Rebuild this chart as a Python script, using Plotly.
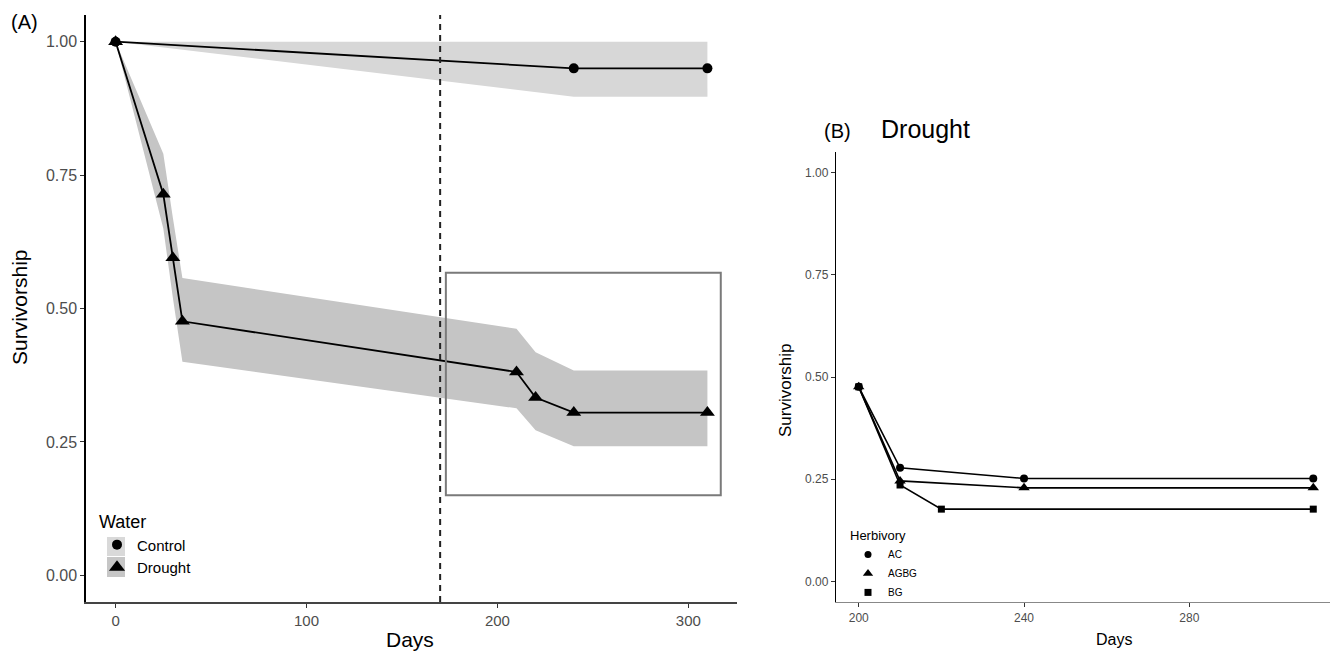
import plotly.graph_objects as go

# The page body has an 8px margin, so the figure is drawn 8px smaller and
# all screen positions below are converted with that offset.
SCREEN_W, SCREEN_H, OFF = 1338, 652, 8
W, H = SCREEN_W - OFF, SCREEN_H - OFF

# ---------------- Panel A data ----------------
control_days = [0, 240, 310]
control_surv = [1.0, 0.95, 0.95]
control_lo = [1.0, 0.897, 0.897]
control_hi = [1.0, 1.0, 1.0]

drought_days = [0, 25, 30, 35, 210, 220, 240, 310]
drought_surv = [1.0, 0.714, 0.595, 0.476, 0.381, 0.333, 0.305, 0.305]
drought_lo = [1.0, 0.65, 0.52, 0.40, 0.313, 0.272, 0.242, 0.242]
drought_hi = [1.0, 0.79, 0.67, 0.557, 0.462, 0.418, 0.384, 0.384]

water_groups = ["Control", "Drought"]
a_xticks = [0, 100, 200, 300]
y_ticks = [0.0, 0.25, 0.5, 0.75, 1.0]
y_ticklabels = ["0.00", "0.25", "0.50", "0.75", "1.00"]
drought_start_day = 170
zoom_box = dict(x0=173, x1=317, y0=0.15, y1=0.567)

# ---------------- Panel B data ----------------
herb_groups = ["AC", "AGBG", "BG"]
ac_days = [200, 210, 240, 310]
ac_surv = [0.476, 0.278, 0.252, 0.252]
agbg_days = [200, 210, 240, 310]
agbg_surv = [0.476, 0.246, 0.229, 0.229]
bg_days = [200, 210, 220, 310]
bg_surv = [0.476, 0.236, 0.177, 0.177]
b_xticks = [200, 240, 280]

FONT = "Liberation Sans, Arial, sans-serif"


def px(x):
    return (x - OFF) / W


def py(y):
    return 1 - (y - OFF) / H


fig = go.Figure()

# ---- Panel A ribbons ----
fig.add_trace(go.Scatter(
    x=control_days + control_days[::-1], y=control_hi + control_lo[::-1],
    fill="toself", fillcolor="rgb(215,215,215)", line=dict(width=0),
    mode="lines", hoverinfo="skip", showlegend=False, xaxis="x", yaxis="y"))
fig.add_trace(go.Scatter(
    x=drought_days + drought_days[::-1], y=drought_hi + drought_lo[::-1],
    fill="toself", fillcolor="rgb(197,197,197)", line=dict(width=0),
    mode="lines", hoverinfo="skip", showlegend=False, xaxis="x", yaxis="y"))

# ---- Panel A lines ----
fig.add_trace(go.Scatter(
    x=control_days, y=control_surv, mode="lines+markers",
    line=dict(color="black", width=1.8),
    marker=dict(symbol="circle", size=10, color="black"),
    showlegend=False, xaxis="x", yaxis="y"))
fig.add_trace(go.Scatter(
    x=drought_days, y=drought_surv, mode="lines+markers",
    line=dict(color="black", width=1.8),
    marker=dict(symbol="triangle-up", size=13, color="black"),
    showlegend=False, xaxis="x", yaxis="y"))

# ---- Panel A legend entries ----
for name, sym, sz in zip(water_groups, ["circle", "triangle-up"], [10, 14]):
    fig.add_trace(go.Scatter(
        x=[None], y=[None], mode="markers", name=name,
        marker=dict(symbol=sym, size=sz, color="black"),
        legend="legend", xaxis="x", yaxis="y"))

# ---- Panel B lines ----
for days, surv, sym, sz in [(ac_days, ac_surv, "circle", 8),
                             (agbg_days, agbg_surv, "triangle-up", 10),
                             (bg_days, bg_surv, "square", 7)]:
    fig.add_trace(go.Scatter(
        x=days, y=surv, mode="lines+markers",
        line=dict(color="black", width=1.6),
        marker=dict(symbol=sym, size=sz, color="black"),
        showlegend=False, xaxis="x2", yaxis="y2"))

for name, sym, sz in zip(herb_groups, ["circle", "triangle-up", "square"], [7, 9, 7]):
    fig.add_trace(go.Scatter(
        x=[None], y=[None], mode="markers", name=name,
        marker=dict(symbol=sym, size=sz, color="black"),
        legend="legend2", xaxis="x2", yaxis="y2"))

axis_common = dict(showgrid=False, zeroline=False, showline=True,
                   ticks="outside", ticklen=4, tickwidth=1, tickcolor="#333",
                   automargin=False)

fig.update_layout(
    width=W, height=H,
    margin=dict(l=0, r=0, t=0, b=0),
    paper_bgcolor="white", plot_bgcolor="white",
    font=dict(family=FONT, color="black"),
    xaxis=dict(domain=[px(86), px(737)], range=[-15.5, 325.5],
               tickvals=a_xticks, linecolor="#444", linewidth=1.5,
               tickfont=dict(size=15, color="#4d4d4d"), anchor="y",
               **axis_common),
    yaxis=dict(domain=[py(602), py(15)], range=[-0.05, 1.05],
               tickvals=y_ticks, ticktext=y_ticklabels, linecolor="black",
               linewidth=1.5, tickfont=dict(size=16, color="#4d4d4d"),
               anchor="x", **axis_common),
    xaxis2=dict(domain=[px(836), px(1336)], range=[194.5, 315.5],
                tickvals=b_xticks, linecolor="#888", linewidth=1.2,
                tickfont=dict(size=12, color="#4d4d4d"), anchor="y2",
                **axis_common),
    yaxis2=dict(domain=[py(602), py(152)], range=[-0.05, 1.05],
                tickvals=y_ticks, ticktext=y_ticklabels, linecolor="black",
                linewidth=1.4, tickfont=dict(size=12, color="#4d4d4d"),
                anchor="x2", **axis_common),
    legend=dict(x=px(97), y=py(505), xanchor="left", yanchor="top",
                bgcolor="rgba(0,0,0,0)", tracegroupgap=0,
                title=dict(text="Water", font=dict(size=18)),
                font=dict(size=15), itemwidth=30),
    legend2=dict(x=px(848), y=py(523), xanchor="left", yanchor="top",
                 bgcolor="rgba(0,0,0,0)", tracegroupgap=0,
                 title=dict(text="Herbivory", font=dict(size=13)),
                 font=dict(size=10), itemwidth=30),
)

# grey key backgrounds of the "Water" legend (ribbon fill colours)
key_boxes = [(537, 556, "rgb(217,217,217)"), (557, 577, "rgb(198,198,198)")]
for y_top, y_bot, col in key_boxes:
    fig.add_shape(type="rect", xref="paper", yref="paper", layer="below",
                  x0=px(107), x1=px(125), y0=py(y_bot), y1=py(y_top),
                  line=dict(width=0), fillcolor=col)

# vertical dashed line and zoom rectangle in panel A
fig.add_shape(type="line", xref="x", yref="y domain",
              x0=drought_start_day, x1=drought_start_day, y0=0, y1=1,
              line=dict(color="#222", width=2, dash="6px,5px"))
fig.add_shape(type="rect", xref="x", yref="y", **zoom_box,
              line=dict(color="#7a7a7a", width=2), fillcolor="rgba(0,0,0,0)")

annos = [
    dict(text="(A)", x=px(9), y=py(22), xanchor="left", yanchor="middle",
         font=dict(size=20)),
    dict(text="(B)", x=px(822), y=py(131), xanchor="left", yanchor="middle",
         font=dict(size=20)),
    dict(text="Drought", x=px(879), y=py(129), xanchor="left", yanchor="middle",
         font=dict(size=25)),
    dict(text="Survivorship", x=px(19), y=py(307), xanchor="center",
         yanchor="middle", textangle=-90, font=dict(size=21)),
    dict(text="Days", x=px(410), y=py(639), xanchor="center", yanchor="middle",
         font=dict(size=21)),
    dict(text="Survivorship", x=px(786), y=py(390), xanchor="center",
         yanchor="middle", textangle=-90, font=dict(size=17)),
    dict(text="Days", x=px(1114), y=py(639), xanchor="center", yanchor="middle",
         font=dict(size=16)),
]
for a in annos:
    fig.add_annotation(xref="paper", yref="paper", showarrow=False, **a)

fig.write_html("out.html")
